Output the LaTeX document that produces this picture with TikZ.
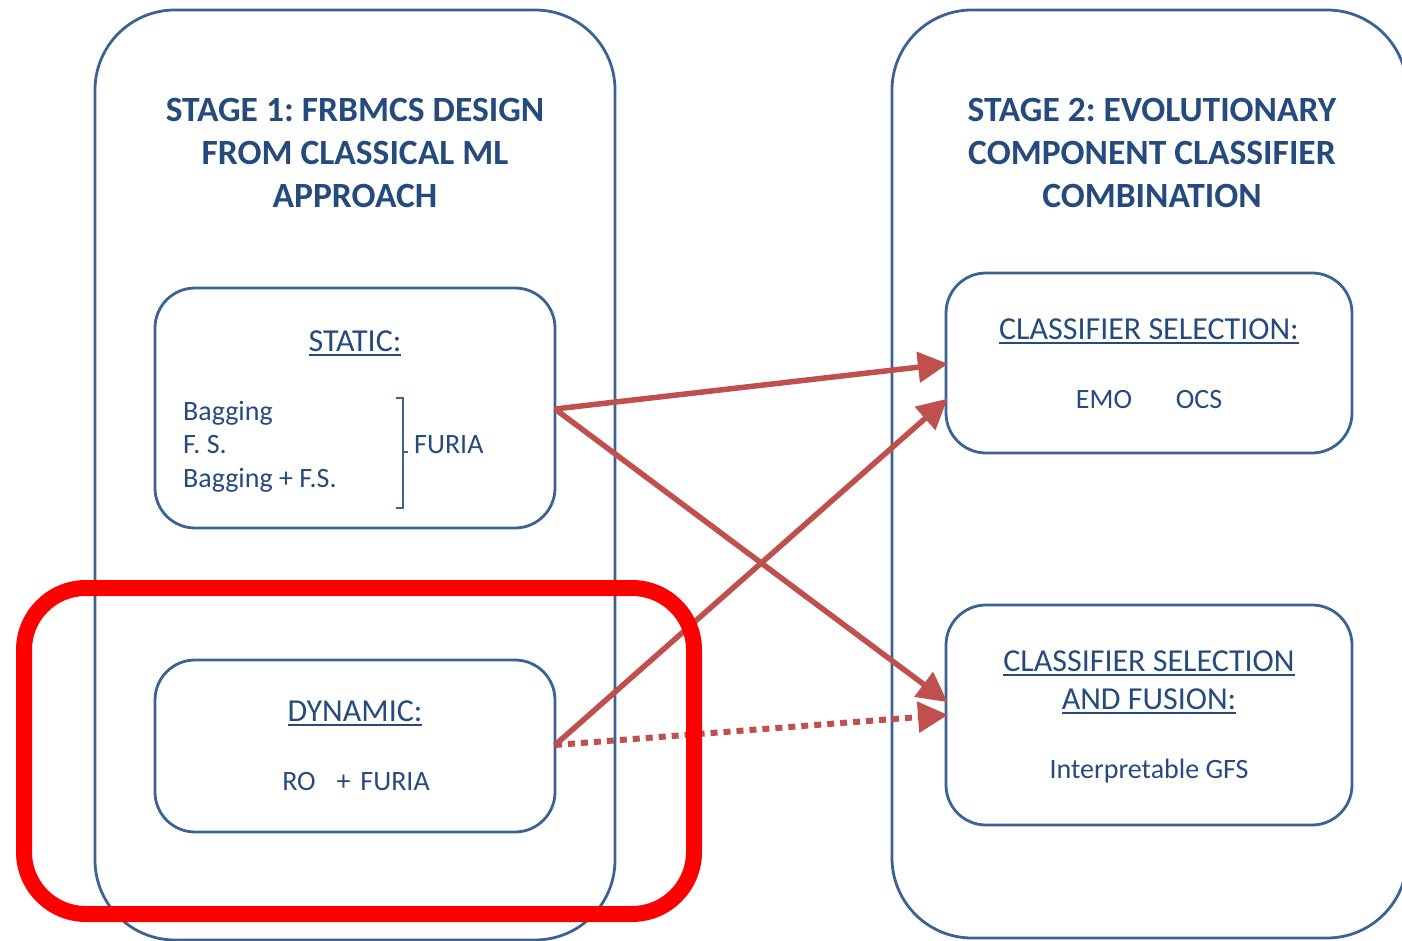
\documentclass[tikz,border=0pt]{standalone}
\usepackage{fontspec}
\setmainfont{Carlito}
\usetikzlibrary{arrows.meta}
\definecolor{boxblue}{HTML}{3C6293}
\definecolor{txtblue}{HTML}{254B7E}
\definecolor{arrred}{HTML}{C0504D}
\definecolor{hlred}{HTML}{FF0000}
\newcommand\myul[1]{\setbox0\hbox{#1}\leavevmode\rlap{\rule[-4.5pt]{\wd0}{1.8pt}}\box0}
\tikzset{
  outerbox/.style={draw=boxblue, line width=2.8pt, rounded corners=80pt, inner sep=0pt},
  innerbox/.style={draw=boxblue, line width=2.8pt, rounded corners=40pt, inner sep=0pt},
  titletxt/.style={text=txtblue, font=\fontsize{35.5}{43}\selectfont\bfseries\frenchspacing, align=center, inner sep=0pt},
  headtxt/.style={text=txtblue, font=\fontsize{32}{38}\selectfont\frenchspacing, inner sep=0pt},
  bodytxt/.style={text=txtblue, font=\fontsize{28}{33}\selectfont\frenchspacing, inner sep=0pt},
  conn/.style={draw=arrred, line width=5.5pt, -{Triangle[length=30pt,width=30pt]}, shorten >=-2pt},
  dotconn/.style={draw=arrred, line width=6pt, dash pattern=on 7pt off 6pt, -{Triangle[length=30pt,width=30pt]}, shorten >=-2pt},
  hlbox/.style={draw=hlred, line width=16pt, rounded corners=62pt}
}
\begin{document}
\begin{tikzpicture}[x=1pt,y=-1pt]
\useasboundingbox (0,0) rectangle (1402,941);
\clip (0,0) rectangle (1402,941);
% outer stage boxes
\node[outerbox, minimum width=520pt, minimum height=930pt] (s1) at (355,475) {};
\node[outerbox, minimum width=515pt, minimum height=928pt] (s2) at (1149.5,474) {};
% titles
\node[titletxt] (t1) at (355,153) {STAGE 1: FRBMCS DESIGN\\FROM CLASSICAL ML\\APPROACH};
\node[titletxt] (t2) at (1152,153) {STAGE 2: EVOLUTIONARY\\COMPONENT CLASSIFIER\\COMBINATION};
% inner boxes
\node[innerbox, minimum width=400pt, minimum height=240pt] (static) at (355,408) {};
\node[innerbox, minimum width=400pt, minimum height=172pt] (dynamic) at (355,746) {};
\node[innerbox, minimum width=406pt, minimum height=180pt] (csel) at (1149,363) {};
\node[innerbox, minimum width=406pt, minimum height=220pt] (cfus) at (1149,715) {};
% static contents
\node[headtxt] (sth) at (355,343) {\myul{STATIC:}};
\node[bodytxt, anchor=west] (bag) at (183,413) {Bagging};
\node[bodytxt, anchor=west] (fs) at (183,445) {F. S.};
\node[bodytxt, anchor=west] (bagfs) at (183,480) {Bagging + F.S.};
\draw[boxblue, line width=1.6pt] (396,398) -- (403,398) -- (403,508) -- (396,508);
\draw[boxblue, line width=1.6pt] (403,452) -- (408,452);
\node[bodytxt, anchor=west] (furia) at (414,445) {FURIA};
% dynamic contents
\node[headtxt] (dyh) at (355,713) {\myul{DYNAMIC:}};
\node[bodytxt] (ro) at (356,782) {RO\hspace{0.75em}+\hspace{0.35em}FURIA};
% classifier selection contents
\node[headtxt] (csh) at (1149,331) {\myul{CLASSIFIER SELECTION:}};
\node[bodytxt] (emo) at (1104,400) {EMO};
\node[bodytxt] (ocs) at (1199,400) {OCS};
% selection and fusion contents
\node[headtxt] (cfh1) at (1149,663) {\myul{CLASSIFIER SELECTION}};
\node[headtxt] (cfh2) at (1149,701) {\myul{AND FUSION:}};
\node[bodytxt] (gfs) at (1149,771) {Interpretable GFS};
% connector anchors
\coordinate (sA) at (555,409);
\coordinate (dA) at (555,745);
\coordinate (cT1) at (946,364);
\coordinate (cT2) at (946,400);
\coordinate (fT1) at (946,701);
\coordinate (fT2) at (946,715);
\draw[conn] (sA) -- (cT1);
\draw[conn] (sA) -- (fT1);
\draw[conn] (dA) -- (cT2);
\draw[dotconn] (dA) -- (fT2);
% highlight
\node[hlbox, minimum width=670pt, minimum height=326pt] (hl) at (359,751) {};
\end{tikzpicture}
\end{document}
